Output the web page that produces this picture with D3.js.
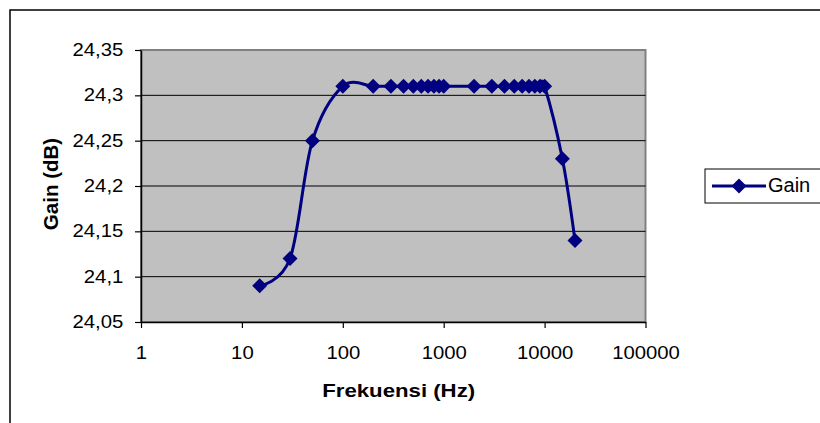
<!DOCTYPE html>
<html>
<head>
<meta charset="utf-8">
<script src="https://cdn.jsdelivr.net/npm/d3@7"></script>
<style>
  body { margin: 0; background: #fff; }
  svg text { font-family: Arial, "Liberation Sans", sans-serif; fill: #000; }
</style>
</head>
<body>
<div id="vis"></div>
<script>
// data
const freq = [15, 30, 50, 100, 200, 300, 400, 500, 600, 700, 800, 900, 1000,
  2000, 3000, 4000, 5000, 6000, 7000, 8000, 9000, 10000, 15000, 20000];
const gain = [24.09, 24.12, 24.25, 24.31, 24.31, 24.31, 24.31, 24.31, 24.31, 24.31, 24.31, 24.31, 24.31,
  24.31, 24.31, 24.31, 24.31, 24.31, 24.31, 24.31, 24.31, 24.31, 24.23, 24.14];
const yTicks = [24.05, 24.1, 24.15, 24.2, 24.25, 24.3, 24.35];
const xTicks = [1, 10, 100, 1000, 10000, 100000];
const seriesName = 'Gain';

const navy = '#000080';

const svg = d3.select('#vis')
  .append('svg')
  .attr('width', 820)
  .attr('height', 423);

// chart border
svg.append('rect')
  .attr('x', 10).attr('y', 10)
  .attr('width', 830).attr('height', 430)
  .attr('fill', '#fff')
  .attr('stroke', '#000')
  .attr('stroke-width', 1.5);

let x = d3.scaleLog().domain([1, 100000]).range([141, 645.5]);
let y = d3.scaleLinear().domain([24.05, 24.35]).range([322, 50]);

// plot area
svg.append('rect')
  .attr('x', x.range()[0]).attr('y', y.range()[1])
  .attr('width', x.range()[1] - x.range()[0])
  .attr('height', y.range()[0] - y.range()[1])
  .attr('fill', '#c0c0c0')
  .attr('stroke', '#808080')
  .attr('stroke-width', 2);

// gridlines
svg.selectAll('.grid')
  .data(yTicks.slice(1, -1))
  .enter()
  .append('line')
  .attr('class', 'grid')
  .attr('x1', x.range()[0]).attr('x2', x.range()[1])
  .attr('y1', d => y(d)).attr('y2', d => y(d))
  .attr('stroke', '#000')
  .attr('stroke-width', 1);

// y axis
const yAxis = svg.append('g')
  .attr('transform', `translate(${x.range()[0]},0)`)
  .call(d3.axisLeft(y).tickValues(yTicks).tickSize(6).tickSizeOuter(0)
    .tickFormat(d => String(+d.toFixed(2)).replace('.', ',')));
yAxis.select('.domain').attr('stroke', '#000').attr('stroke-width', 1.5);
yAxis.selectAll('line').attr('stroke', '#000').attr('stroke-width', 1.2);
yAxis.selectAll('text')
  .attr('font-size', 17.5)
  .attr('x', -17.7 / 1.16)
  .attr('transform', 'scale(1.16,1)')
  .attr('font-family', 'Arial, "Liberation Sans", sans-serif');

// x axis
const xAxis = svg.append('g')
  .attr('transform', `translate(0,${y.range()[0]})`)
  .call(d3.axisBottom(x).tickValues(xTicks).tickSize(6).tickSizeOuter(0)
    .tickFormat(d3.format('d')));
xAxis.select('.domain').attr('stroke', '#000').attr('stroke-width', 1.5);
xAxis.selectAll('line').attr('stroke', '#000').attr('stroke-width', 1.2);
xAxis.selectAll('text')
  .attr('font-size', 17.5)
  .attr('y', 37)
  .attr('dy', 0)
  .attr('transform', 'scale(1.16,1)')
  .attr('font-family', 'Arial, "Liberation Sans", sans-serif');
// keep tick labels centered on ticks after the stretch
xAxis.selectAll('.tick').each(function (d) {
  d3.select(this).select('text').attr('x', 0);
});

// smooth line
const line = d3.line()
  .x((d, i) => x(freq[i]))
  .y(d => y(d))
  .curve(d3.curveCardinal.tension(0));

svg.append('path')
  .datum(gain)
  .attr('d', line)
  .attr('fill', 'none')
  .attr('stroke', navy)
  .attr('stroke-width', 3);

const diamond = 'M0,-7.5L7.5,0L0,7.5L-7.5,0Z';

svg.selectAll('.marker')
  .data(gain)
  .enter()
  .append('path')
  .attr('class', 'marker')
  .attr('d', diamond)
  .attr('transform', (d, i) => `translate(${x(freq[i])},${y(d)})`)
  .attr('fill', navy);

// axis titles
svg.append('text')
  .attr('x', 398.7 / 1.2)
  .attr('y', 397)
  .attr('transform', 'scale(1.2,1)')
  .attr('text-anchor', 'middle')
  .attr('font-size', 18.5)
  .attr('font-weight', 'bold')
  .text('Frekuensi (Hz)');

svg.append('text')
  .attr('transform', 'translate(58,184) rotate(-90)')
  .attr('text-anchor', 'middle')
  .attr('font-size', 20.5)
  .attr('font-weight', 'bold')
  .text('Gain (dB)');

// legend
const legend = svg.append('g');
legend.append('rect')
  .attr('x', 705).attr('y', 169)
  .attr('width', 130).attr('height', 34)
  .attr('fill', '#fff')
  .attr('stroke', '#000')
  .attr('stroke-width', 1);
legend.append('line')
  .attr('x1', 712).attr('x2', 766)
  .attr('y1', 186).attr('y2', 186)
  .attr('stroke', navy)
  .attr('stroke-width', 3);
legend.append('path')
  .attr('d', diamond)
  .attr('transform', 'translate(739,186)')
  .attr('fill', navy);
legend.append('text')
  .attr('x', 768).attr('y', 192)
  .attr('font-size', 20)
  .text(seriesName);
</script>
</body>
</html>
